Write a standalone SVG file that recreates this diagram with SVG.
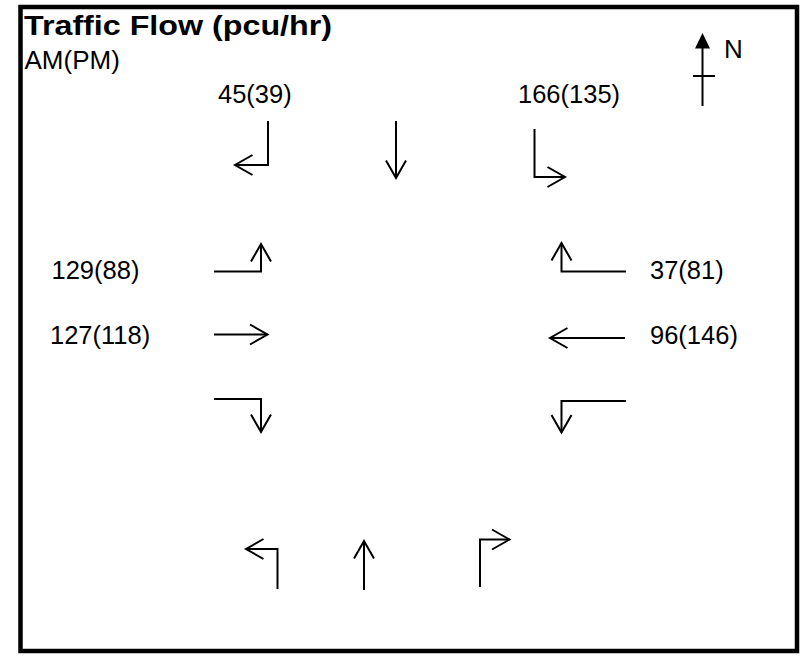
<svg xmlns="http://www.w3.org/2000/svg" width="810" height="656" viewBox="0 0 810 656">
<defs>
<style>
.t{font-family:"Liberation Sans",Arial,sans-serif;fill:#000}
.lbl{font-size:25.5px}
.ar{fill:none;stroke:#000;stroke-width:2;marker-end:url(#hd)}
</style>
<marker id="hd" markerUnits="userSpaceOnUse" viewBox="-20 -12 22 24" refX="0" refY="0" markerWidth="22" markerHeight="24" orient="auto" overflow="visible">
<path d="M-17.5,-10 L0,0 L-17.5,10" fill="none" stroke="#000" stroke-width="2"/>
</marker>
</defs>
<rect x="0" y="0" width="810" height="656" fill="#fff"/>
<rect x="20.5" y="7" width="776.5" height="644" fill="none" stroke="#000" stroke-width="4.5"/>
<g id="title">
<text class="t" x="24" y="34.5" font-size="28" font-weight="bold" textLength="308" lengthAdjust="spacingAndGlyphs">Traffic Flow (pcu/hr)</text>
<text class="t" x="24.5" y="68.5" font-size="26">AM(PM)</text>
</g>
<g id="north">
<line x1="702.5" y1="106" x2="702.5" y2="46" stroke="#000" stroke-width="2"/>
<polygon points="702.5,33 695,48.5 710,48.5" fill="#000"/>
<line x1="693" y1="76" x2="715" y2="76" stroke="#000" stroke-width="2"/>
<text class="t" x="724" y="57.5" font-size="26">N</text>
</g>
<g id="labels">
<text class="t lbl" x="218" y="103">45(39)</text>
<text class="t lbl" x="518" y="103">166(135)</text>
<text class="t lbl" x="51.5" y="278.5">129(88)</text>
<text class="t lbl" x="50" y="343.5">127(118)</text>
<text class="t lbl" x="650" y="278.5">37(81)</text>
<text class="t lbl" x="650" y="343.5">96(146)</text>
</g>
<g id="connectors">
<path class="ar" d="M268,121 V165 H235"/>
<path class="ar" d="M396,121 V178"/>
<path class="ar" d="M534.5,129 V177 H565"/>
<path class="ar" d="M214,271.5 H261 V244"/>
<path class="ar" d="M214,334.5 H267.5"/>
<path class="ar" d="M214,399 H261 V432"/>
<path class="ar" d="M626,271.5 H561.5 V243"/>
<path class="ar" d="M625,338 H550"/>
<path class="ar" d="M626,401 H561.5 V432.5"/>
<path class="ar" d="M277.5,589 V549 H246"/>
<path class="ar" d="M364,590 V541"/>
<path class="ar" d="M480,587 V539.5 H509.5"/>
</g>
</svg>
